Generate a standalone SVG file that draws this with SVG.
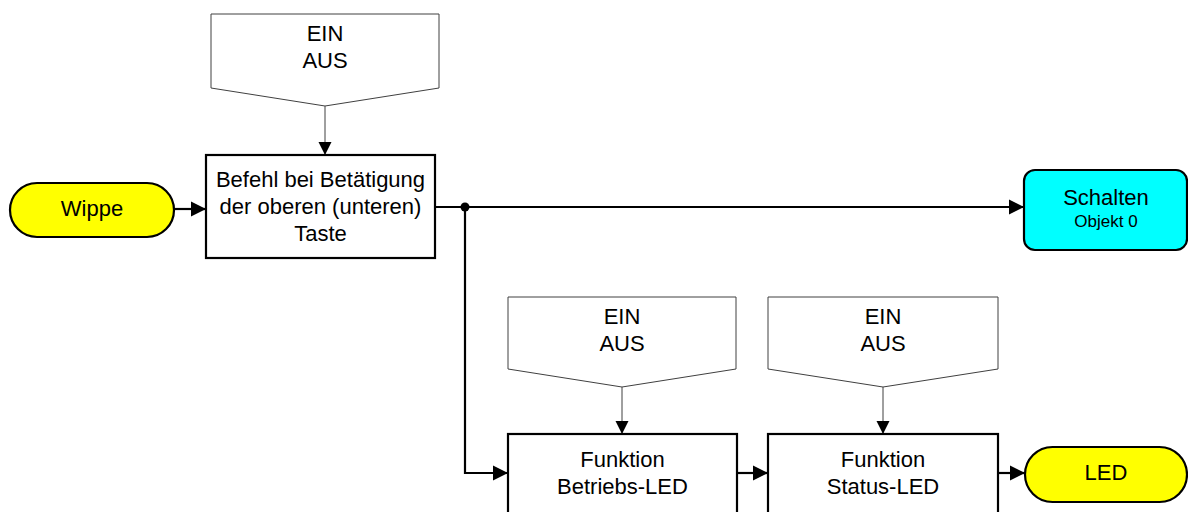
<svg xmlns="http://www.w3.org/2000/svg" width="1188" height="512" viewBox="0 0 1188 512">
<style>
text{font-family:"Liberation Sans",Arial,sans-serif;font-size:22px;fill:#000;text-anchor:middle}
.small{font-size:17px}
.pent{fill:#fff;stroke:#404040;stroke-width:1}
.box{fill:#fff;stroke:#000;stroke-width:2.2}
.term{fill:#ffff00;stroke:#000;stroke-width:2.2}
.obj{fill:#00ffff;stroke:#000;stroke-width:2.2}
.thick{fill:none;stroke:#000;stroke-width:2.2}
.thin{fill:none;stroke:#404040;stroke-width:1}
</style>
<defs>
<marker id="ah" markerUnits="userSpaceOnUse" markerWidth="16" markerHeight="16" refX="15" refY="8" orient="auto">
<path d="M0,0.5 L15,8 L0,15.5 Z" fill="#000"/>
</marker>
<marker id="ahs" markerUnits="userSpaceOnUse" markerWidth="14" markerHeight="14" refX="13" refY="7" orient="auto">
<path d="M0,0.5 L13,7 L0,13.5 Z" fill="#000"/>
</marker>
</defs>
<rect width="1188" height="512" fill="#fff"/>
<g id="connectors">
<path class="thin" d="M325,106 V155" marker-end="url(#ahs)"/>
<path class="thin" d="M622,387 V434" marker-end="url(#ahs)"/>
<path class="thin" d="M883,387 V434" marker-end="url(#ahs)"/>
<path class="thick" d="M174,209 H206" marker-end="url(#ah)"/>
<path class="thick" d="M435,207 H1024" marker-end="url(#ah)"/>
<path class="thick" d="M465,207 V473 H508" marker-end="url(#ah)"/>
<path class="thick" d="M737,473 H768" marker-end="url(#ah)"/>
<path class="thick" d="M998,473 H1025" marker-end="url(#ah)"/>
<circle cx="465" cy="207" r="4.5" fill="#000"/>
</g>
<g id="param1">
<polygon class="pent" points="211,14 439,14 439,88 325,106 211,88"/>
<text x="325" y="41">EIN</text>
<text x="325" y="68">AUS</text>
</g>
<g id="param2">
<polygon class="pent" points="508,297 736,297 736,369 622,387 508,369"/>
<text x="622" y="324">EIN</text>
<text x="622" y="351">AUS</text>
</g>
<g id="param3">
<polygon class="pent" points="768,297 998,297 998,369 883,387 768,369"/>
<text x="883" y="324">EIN</text>
<text x="883" y="351">AUS</text>
</g>
<g id="wippe">
<rect class="term" x="10" y="183" width="164" height="54" rx="27" ry="27"/>
<text x="92" y="216">Wippe</text>
</g>
<g id="befehl">
<rect class="box" x="206" y="155" width="229" height="103"/>
<text x="320.5" y="187">Befehl bei Betätigung</text>
<text x="320.5" y="214">der oberen (unteren)</text>
<text x="320.5" y="241">Taste</text>
</g>
<g id="schalten">
<rect class="obj" x="1024" y="170" width="163" height="80" rx="11" ry="11"/>
<text x="1106" y="205">Schalten</text>
<text class="small" x="1106" y="227">Objekt 0</text>
</g>
<g id="betriebs">
<rect class="box" x="508" y="434" width="229" height="100"/>
<text x="622.5" y="467">Funktion</text>
<text x="622.5" y="494">Betriebs-LED</text>
</g>
<g id="status">
<rect class="box" x="768" y="434" width="230" height="100"/>
<text x="883" y="467">Funktion</text>
<text x="883" y="494">Status-LED</text>
</g>
<g id="led">
<rect class="term" x="1025" y="447" width="162" height="55" rx="27.5" ry="27.5"/>
<text x="1106" y="480">LED</text>
</g>
</svg>
